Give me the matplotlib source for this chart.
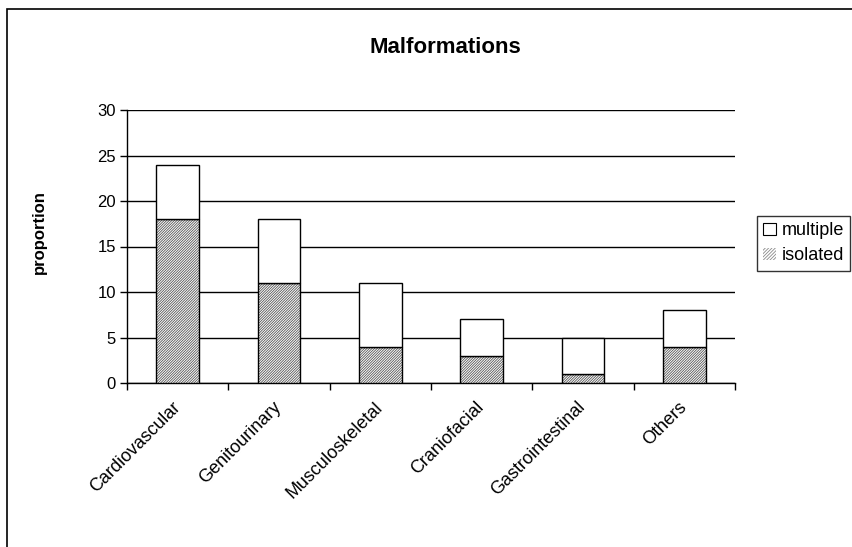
import matplotlib.pyplot as plt
import numpy as np
from matplotlib.patches import Rectangle

plt.rcParams['font.family'] = ['Liberation Sans', 'DejaVu Sans']
plt.rcParams['hatch.linewidth'] = 0.6

categories = ["Cardiovascular", "Genitourinary", "Musculoskeletal",
              "Craniofacial", "Gastrointestinal", "Others"]
isolated = [18, 11, 4, 3, 1, 4]
multiple = [6, 7, 7, 4, 4, 4]
y_ticks = [0, 5, 10, 15, 20, 25, 30]

fig = plt.figure(figsize=(8.52, 5.47), dpi=100)
ax = fig.add_axes([127 / 852, 1 - 383 / 547, 608 / 852, 273 / 547])

# outer chart border (right/bottom edges fall outside the picture)
fig.patches.append(Rectangle((7 / 852, -0.1), 1.2, (1 - 9 / 547) + 0.1,
                             transform=fig.transFigure, fill=False,
                             edgecolor='black', linewidth=1.2))

x = np.arange(len(categories))
w = 0.42
# isolated: dense gray hatch, then black outline; multiple: white
ax.bar(x, isolated, w, color='white', edgecolor='#555555', hatch='/' * 13,
       linewidth=0, zorder=3)
ax.bar(x, isolated, w, fill=False, edgecolor='black', linewidth=1, zorder=4)
ax.bar(x, multiple, w, bottom=isolated, color='white', edgecolor='black',
       linewidth=1, zorder=4)

ax.set_xlim(-0.5, len(categories) - 0.5)
ax.set_ylim(0, 30)
ax.set_yticks(y_ticks)
ax.tick_params(axis='y', labelsize=12, direction='out', length=5, width=1, pad=3)
ax.yaxis.grid(True, color='black', linewidth=1)
ax.set_axisbelow(True)

ax.set_xticks(np.arange(len(categories) + 1) - 0.5)
ax.set_xticklabels([])
ax.tick_params(axis='x', direction='out', length=5, width=1)
for i, name in enumerate(categories):
    ax.text(i - 0.06, -1.7, name, rotation=45, ha='right', va='top',
            rotation_mode='anchor', fontsize=13)

for s in ['top', 'right']:
    ax.spines[s].set_visible(False)
ax.spines['left'].set_linewidth(1)
ax.spines['bottom'].set_linewidth(1)

fig.text(445 / 852, 1 - 48 / 547, "Malformations", fontsize=16,
         fontweight='bold', ha='center', va='center')
fig.text(39 / 852, 1 - 232 / 547, "proportion", fontsize=12,
         fontweight='bold', rotation=90, ha='center', va='center')

handles = [Rectangle((0, 0), 1, 1, facecolor='white', edgecolor='black', linewidth=0.8),
           Rectangle((0, 0), 1, 1, facecolor='white', edgecolor='#8a8a8a',
                     hatch='/' * 10, linewidth=0)]
leg = fig.legend(handles, ["multiple", "isolated"], loc='upper left',
                 bbox_to_anchor=(757 / 852, 1 - 216 / 547), fontsize=13,
                 frameon=True, fancybox=False, edgecolor='black',
                 handlelength=0.7, handleheight=0.7, handletextpad=0.3,
                 borderpad=0.35, labelspacing=0.45, borderaxespad=0)
leg.get_frame().set_linewidth(1)

fig.savefig("out.png", dpi=100)
